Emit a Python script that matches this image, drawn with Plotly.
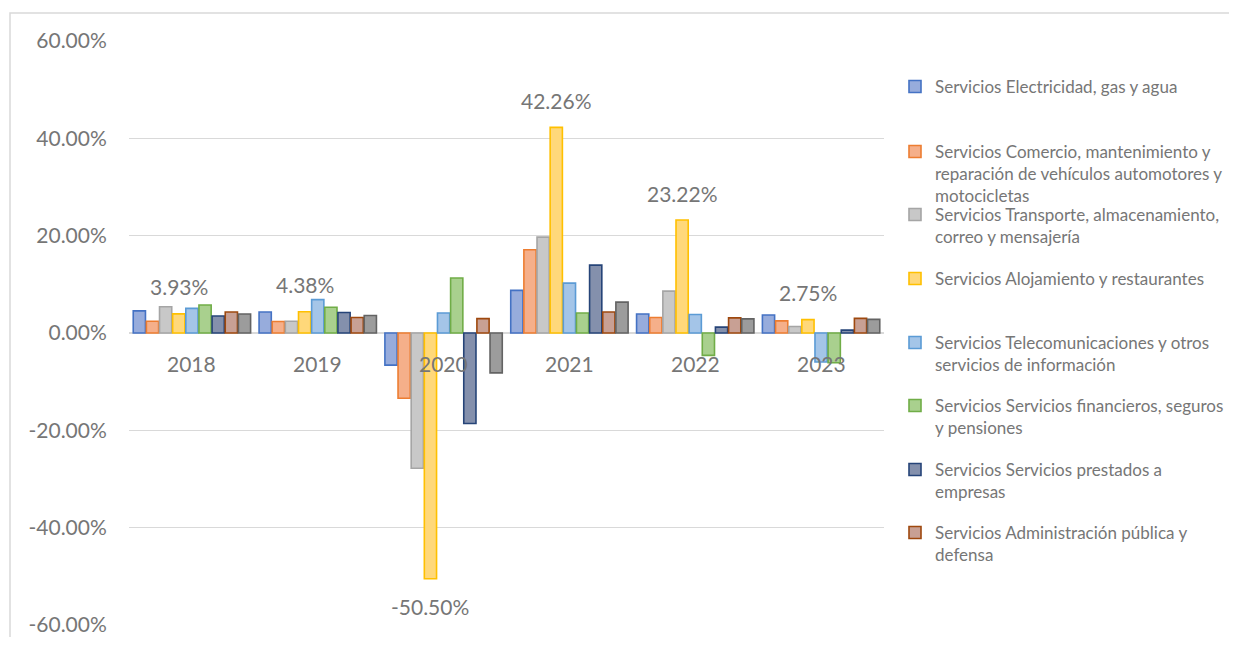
import plotly.graph_objects as go

categories = ["2018", "2019", "2020", "2021", "2022", "2023"]

series_names = [
    "Servicios Electricidad, gas y agua",
    "Servicios Comercio, mantenimiento y<br>reparación de vehículos automotores y<br>motocicletas",
    "Servicios Transporte, almacenamiento,<br>correo y mensajería",
    "Servicios Alojamiento y restaurantes",
    "Servicios Telecomunicaciones y otros<br>servicios de información",
    "Servicios Servicios financieros, seguros<br>y pensiones",
    "Servicios Servicios prestados a<br>empresas",
    "Servicios Administración pública y<br>defensa",
    "Servicios (otros)",
]

electricidad = [0.0455, 0.0430, -0.0660, 0.0875, 0.0390, 0.0370]
comercio = [0.0240, 0.0235, -0.1340, 0.1710, 0.0320, 0.0250]
transporte = [0.0540, 0.0240, -0.2780, 0.1970, 0.0860, 0.0135]
alojamiento = [0.0393, 0.0438, -0.5050, 0.4226, 0.2322, 0.0275]
telecom = [0.0507, 0.0685, 0.0410, 0.1025, 0.0380, -0.0595]
financieros = [0.0575, 0.0530, 0.1130, 0.0410, -0.0460, -0.0610]
prestados = [0.0350, 0.0420, -0.1860, 0.1395, 0.0120, 0.0060]
administracion = [0.0430, 0.0320, 0.0295, 0.0430, 0.0310, 0.0300]
otros = [0.0390, 0.0360, -0.0820, 0.0635, 0.0290, 0.0280]

values = [electricidad, comercio, transporte, alojamiento, telecom,
          financieros, prestados, administracion, otros]

line_colors = ["#4472C4", "#ED7D31", "#A5A5A5", "#FFC000", "#5B9BD5",
               "#70AD47", "#264478", "#9E480E", "#636363"]
fill_colors = ["#97ACDC", "#F5AF8A", "#C8C8C8", "#FFD87A", "#A4C5E8",
               "#A9D08E", "#8490AC", "#C8A094", "#9C9C9C"]

tick_vals = [-0.6, -0.4, -0.2, 0.0, 0.2, 0.4, 0.6]
tick_text = ["-60.00%", "-40.00%", "-20.00%", "0.00%", "20.00%", "40.00%", "60.00%"]

# page has an 8px body margin; the figure is sized to fit inside the window
OFF = 8
W, H = 1221, 629
ML, MT = 129 - OFF, 41 - OFF
MR = W - (884 - OFF)
MB = H - (625 - OFF)
plot_w = W - ML - MR
plot_h = H - MT - MB
BARGAP = 0.06
TEXT = "#767676"
FONT = "Lato"

# legend first-line centres (page pixels from top) for each visible entry
legend_centres = [87, 152, 215, 279, 343, 406, 470, 533]

fig = go.Figure()
for i, (name, vals) in enumerate(zip(series_names, values)):
    show = i < 8
    legend_id = "legend" if i == 0 else f"legend{i+1}"
    fig.add_trace(go.Bar(
        x=categories, y=vals, name=name,
        marker=dict(color=fill_colors[i], line=dict(color=line_colors[i], width=1.6)),
        showlegend=show,
        legend=legend_id if show else None,
    ))

layout_legends = {}
for i in range(8):
    key = "legend" if i == 0 else f"legend{i+1}"
    top_fig = legend_centres[i] - 18 - OFF
    layout_legends[key] = dict(
        xref="container", yref="container",
        x=887 / W, xanchor="left",
        y=1 - top_fig / H, yanchor="top",
        bgcolor="rgba(0,0,0,0)", borderwidth=0,
        font=dict(family=FONT, size=17, color=TEXT),
        valign="top", itemwidth=30,
    )

# data labels for the accommodation series
cat_w = plot_w / len(categories)
slot = cat_w * (1 - BARGAP) / len(values)
idx = 3
xshift = (idx - (len(values) - 1) / 2) * slot
annotations = []
for i, v in enumerate(alojamiento):
    annotations.append(dict(
        x=i, y=v, xref="x", yref="y", text=f"{v*100:.2f}%", showarrow=False,
        xshift=xshift, yshift=27 if v >= 0 else -28,
        font=dict(family=FONT, size=21, color=TEXT),
    ))
# category labels next to the zero line
for i, c in enumerate(categories):
    annotations.append(dict(
        x=i, y=0, xref="x", yref="y", text=c, showarrow=False,
        yshift=-30, font=dict(family=FONT, size=21, color=TEXT),
    ))

fig.update_layout(
    width=W, height=H,
    margin=dict(l=ML, r=MR, t=MT, b=MB, autoexpand=False),
    paper_bgcolor="white", plot_bgcolor="white",
    barmode="group", bargap=BARGAP, bargroupgap=0.07,
    font=dict(family=FONT, color=TEXT),
    annotations=annotations,
    shapes=[dict(type="rect", xref="paper", yref="paper",
                 x0=(2 - ML) / plot_w, x1=(W + 20 - ML) / plot_w,
                 y0=(H - MB - (H + 20)) / plot_h, y1=(H - MB - 5) / plot_h,
                 line=dict(color="#D9D9D9", width=1.5), fillcolor="rgba(0,0,0,0)",
                 layer="below")],
    **layout_legends,
)
fig.update_xaxes(type="category", showticklabels=False, showgrid=False,
                 showline=False, zeroline=False,
                 range=[-0.5, len(categories) - 0.5])
fig.update_yaxes(range=[-0.6, 0.6], tickvals=tick_vals, ticktext=tick_text,
                 showgrid=True, gridcolor="#D9D9D9", gridwidth=1,
                 zeroline=True, zerolinecolor="#D9D9D9", zerolinewidth=1.5,
                 tickfont=dict(family=FONT, size=21, color=TEXT),
                 ticks="outside", ticklen=17, tickcolor="rgba(0,0,0,0)",
                 ticklabeloverflow="allow", automargin=False)

fig.write_html("out.html")
